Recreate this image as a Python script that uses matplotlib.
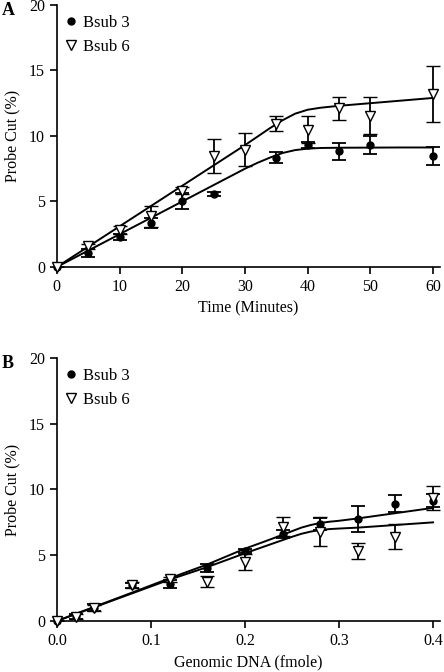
import numpy as np
import matplotlib
matplotlib.use("Agg")
import matplotlib.pyplot as plt

plt.rcParams['font.family'] = ['Liberation Serif', 'DejaVu Serif']

# panel A - time course
time_min = [0, 5, 10, 15, 20, 25, 35, 40, 45, 50, 60]
a_bsub3 = [0, 1.07, 2.3, 3.36, 5.06, 5.6, 8.35, 9.3, 8.83, 9.29, 8.47]
a_bsub3_err = [0, 0.3, 0.25, 0.35, 0.6, 0.15, 0.45, 0.2, 0.65, 0.7, 0.7]

time6_min = [0, 5, 10, 15, 20, 25, 30, 35, 40, 45, 50, 60]
a_bsub6 = [0, 1.58, 2.85, 3.87, 5.83, 8.5, 8.96, 10.94, 10.48, 12.11, 11.55, 13.2]
a_bsub6_err = [0, 0.2, 0.3, 0.8, 0.25, 1.3, 1.25, 0.55, 1.05, 0.9, 1.4, 2.15]

# fitted curves
a_fit_x = [0, 5, 10, 15, 20, 25, 30, 32, 34, 36, 38, 40, 42, 45, 50, 55, 60]
a_fit3 = [0, 1.25, 2.5, 3.75, 5.0, 6.25, 7.5, 7.95, 8.35, 8.7, 8.92, 9.03, 9.08, 9.1, 9.11, 9.12, 9.12]
a_fit6 = [0, 1.55, 3.1, 4.65, 6.2, 7.75, 9.3, 9.95, 10.6, 11.2, 11.7, 12.0, 12.15, 12.3, 12.5, 12.7, 12.9]

# panel B - genomic DNA titration
dna_fmole = [0, 0.02, 0.04, 0.08, 0.12, 0.16, 0.2, 0.24, 0.28, 0.32, 0.36, 0.4]
b_bsub3 = [0, 0.35, 1.01, 2.7, 2.79, 4.0, 5.32, 6.62, 7.4, 7.73, 8.9, 9.15]
b_bsub3_err = [0, 0.2, 0.25, 0.2, 0.3, 0.3, 0.15, 0.3, 0.45, 1.0, 0.65, 0.5]
b_bsub6 = [0, 0.33, 1.0, 2.74, 3.17, 2.99, 4.51, 7.17, 6.79, 5.32, 6.41, 9.33]
b_bsub6_err = [0, 0.2, 0.25, 0.2, 0.2, 0.4, 0.6, 0.7, 1.1, 0.63, 0.96, 0.9]

b_fit_x = [0, 0.04, 0.08, 0.12, 0.16, 0.2, 0.22, 0.24, 0.25, 0.26, 0.27, 0.28, 0.29, 0.3, 0.32, 0.36, 0.4]
b_fit3 = [0, 1.08, 2.16, 3.25, 4.3, 5.5, 6.02, 6.55, 6.83, 7.1, 7.3, 7.45, 7.55, 7.62, 7.8, 8.2, 8.6]
b_fit6 = [0, 1.05, 2.1, 3.15, 4.1, 5.15, 5.65, 6.15, 6.4, 6.63, 6.8, 6.92, 6.99, 7.03, 7.1, 7.3, 7.5]

fig = plt.figure(figsize=(4.44, 6.72), dpi=100)
axA = fig.add_axes([0.128, 0.6027, 0.863, 0.39])
axB = fig.add_axes([0.128, 0.0759, 0.863, 0.3914])

ebkw = dict(color='black', ecolor='black', elinewidth=1.3, capsize=5, capthick=1.3, linestyle='none')


def draw_panel(ax, x3, y3, e3, x6, y6, e6, fx, f3, f6):
    ax.plot(fx, f3, color='black', lw=1.4, zorder=2)
    ax.plot(fx, f6, color='black', lw=1.4, zorder=2)
    c = ax.errorbar(x3, y3, yerr=e3, fmt='o', markersize=5, mfc='black', mec='black', zorder=3, **ebkw)
    t = ax.errorbar(x6, y6, yerr=e6, fmt='v', markersize=6.5, mfc='white', mec='black', mew=1.0, zorder=4, **ebkw)
    for art in (c, t):
        art[0].set_clip_on(False)
    # legend handles
    ax.plot([], [], 'o', color='black', markersize=5, label='Bsub 3')
    ax.plot([], [], 'v', mfc='white', mec='black', markersize=6.5, label='Bsub 6')
    ax.legend(loc='upper left', frameon=False, fontsize=12, handletextpad=0.2,
              handlelength=1.0, borderaxespad=0.3, labelspacing=0.45, bbox_to_anchor=(-0.015, 1.005))
    ax.spines['top'].set_visible(False)
    ax.spines['right'].set_visible(False)
    for s in ['left', 'bottom']:
        ax.spines[s].set_linewidth(1.2)
    ax.tick_params(direction='out', length=5, width=1.2, labelsize=11.5)
    ax.set_ylim(0, 20)
    ax.set_yticks([0, 5, 10, 15, 20])
    ax.set_ylabel('Probe Cut (%)', fontsize=11.5, labelpad=6)


draw_panel(axA, time_min, a_bsub3, a_bsub3_err, time6_min, a_bsub6, a_bsub6_err,
           a_fit_x, a_fit3, a_fit6)
axA.set_xlim(0, 61.1)
axA.set_xticks([0, 10, 20, 30, 40, 50, 60])
axA.set_xlabel('Time (Minutes)', fontsize=11.5, labelpad=4)

draw_panel(axB, dna_fmole, b_bsub3, b_bsub3_err, dna_fmole, b_bsub6, b_bsub6_err,
           b_fit_x, b_fit3, b_fit6)
axB.set_xlim(0, 0.4074)
axB.set_xticks([0.0, 0.1, 0.2, 0.3, 0.4])
axB.set_xticklabels(['0.0', '0.1', '0.2', '0.3', '0.4'])
axB.set_xlabel('Genomic DNA (fmole)', fontsize=11.5, labelpad=4)

fig.text(0.003, 0.978, 'A', fontsize=13, fontweight='bold')
fig.text(0.003, 0.453, 'B', fontsize=13, fontweight='bold')

fig.savefig('out.png', dpi=100)
